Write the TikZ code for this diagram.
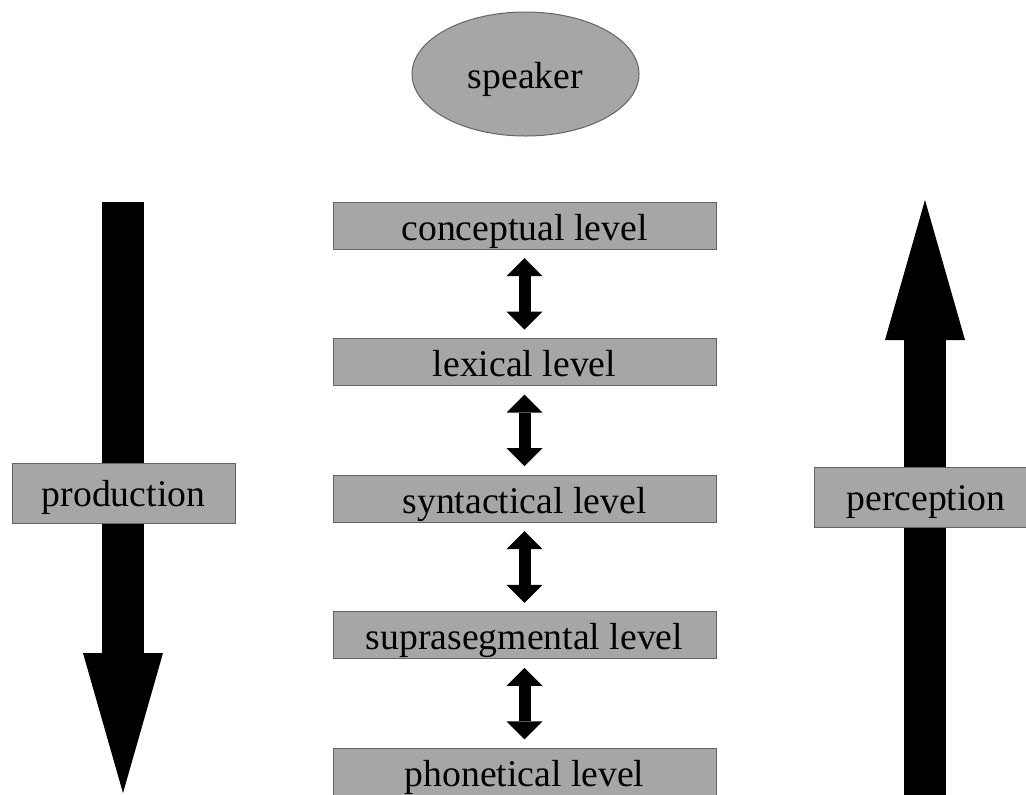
\documentclass[tikz,border=0pt]{standalone}
\usepackage{fontspec}
\setmainfont{Liberation Serif}
\usetikzlibrary{arrows.meta, positioning, shapes.geometric}
\definecolor{boxgray}{RGB}{166,166,166}
\definecolor{edgegray}{RGB}{100,100,100}
\newcommand{\bigTip}{{Triangle[length=70pt, width=40pt, line width=0pt]}}
\newcommand{\smallTip}{{Triangle[length=9pt, width=18pt, line width=0pt]}}

\tikzset{
	box/.style={draw=edgegray, line width=0.5pt, fill=boxgray, inner sep=0pt, outer sep=0pt, text depth=0pt},
	levelbox/.style={box, minimum width=191.5pt, minimum height=23.5pt, text height=14.5pt},
	sidebox/.style={box, minimum width=111.5pt, minimum height=30pt, text height=13.5pt},
	bigarrow/.style={line width=21pt},
	link/.style={line width=6pt, \smallTip-\smallTip, shorten <=4.5pt, shorten >=4.5pt},
}

\begin{document}
\begin{tikzpicture}[x=0.5pt, y=-0.5pt, font=\fontsize{18.85}{22}\selectfont]
	\useasboundingbox (0,0) rectangle (1026,794);
	\def\gap{44.8pt}
	
	\node[box, ellipse, minimum width=113.5pt, minimum height=62pt, text height=14pt] (speaker) at (525.5,74) {speaker};
	
	\node[levelbox] (conceptual) at (524.5,225.5) {conceptual level};
	\node[levelbox, below=\gap of conceptual] (lexical) {lexical level};
	\node[levelbox, below=\gap of lexical] (syntactical) {syntactical level};
	\node[levelbox, below=\gap of syntactical] (suprasegmental) {suprasegmental level};
	\node[levelbox, below=\gap of suprasegmental] (phonetical) {phonetical level};
	
	\foreach \a/\b in {conceptual/lexical, lexical/syntactical, syntactical/suprasegmental, suprasegmental/phonetical}
		\draw[link] (\a) -- (\b);
	
	% production / perception
	\coordinate (prodtop) at (123,202);
	\coordinate (prodend) at (123,793);
	\coordinate (percbot) at (925,800);
	\coordinate (perctop) at (925,200);
	\draw[bigarrow, -\bigTip] (prodtop) -- (prodend);
	\draw[bigarrow, -\bigTip] (percbot) -- (perctop);
	
	\node[sidebox] (production) at (123.5,493) {production};
	\node[sidebox] (perception) at (926,497) {perception};
\end{tikzpicture}
\end{document}
